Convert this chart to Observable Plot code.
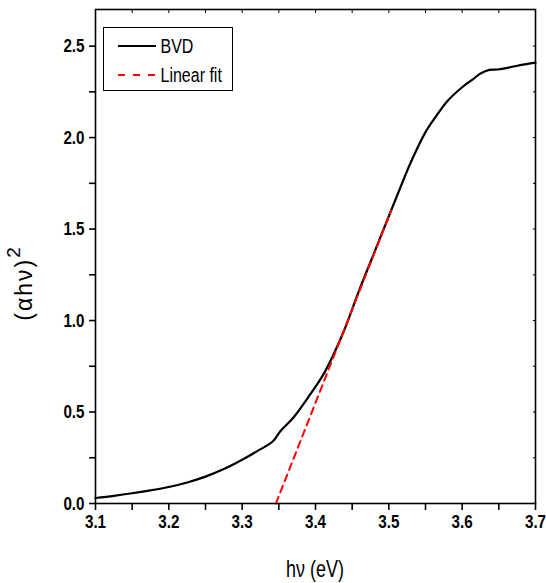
<!DOCTYPE html>
<html><head><meta charset="utf-8">
<script src="https://cdn.jsdelivr.net/npm/d3@7"></script>
<script src="https://cdn.jsdelivr.net/npm/@observablehq/plot@0.6"></script>
<style>
body{margin:0;background:#fff}
#chart{position:relative;width:546px;height:583px}
</style>
</head><body><div id="chart"></div>
<script>
// Photon energy hν (eV) and (αhν)^2 for BVD
const hv  = [3.100,3.125,3.150,3.175,3.200,3.225,3.250,3.275,3.300,3.320,3.342,3.352,3.370,3.390,3.410,3.425,3.440,3.460,3.480,3.500,3.515,3.530,3.550,3.565,3.580,3.600,3.615,3.625,3.637,3.648,3.660,3.672,3.685,3.700];
const bvd = [0.030,0.042,0.056,0.072,0.090,0.115,0.147,0.188,0.239,0.285,0.340,0.395,0.470,0.580,0.700,0.818,0.955,1.170,1.370,1.570,1.720,1.865,2.030,2.120,2.200,2.275,2.320,2.350,2.370,2.372,2.380,2.390,2.400,2.410];
// Linear fit end points
const fitX = [3.346, 3.503];
const fitY = [0.000, 1.600];
const seriesNames = ["BVD", "Linear fit"];
const xTicks = [3.1,3.2,3.3,3.4,3.5,3.6,3.7];
const xMinor = [3.15,3.25,3.35,3.45,3.55,3.65];
const yTicks = [0,0.5,1.0,1.5,2.0,2.5];
const yMinor = [0.25,0.75,1.25,1.75,2.25];
const xTitle = "hν (eV)";
const yTitle = "(αhν)";
const ySup = "2";

const curve = hv.map((x,i)=>({x, y:bvd[i]}));
const fit = fitX.map((x,i)=>({x, y:fitY[i]}));
const FONT = '"Liberation Sans",Arial,sans-serif';
const NARROW = 0.8;

const chart = Plot.plot({
  width: 546, height: 583,
  marginLeft: 95, marginRight: 11, marginTop: 9, marginBottom: 80,
  style: {fontFamily: FONT, background: "#fff"},
  x: {domain: [3.1, 3.7]},
  y: {domain: [0, 2.7]},
  marks: [
    Plot.line(curve, {x:"x", y:"y", stroke:"#000", strokeWidth:2.2, curve:"catmull-rom"}),
    Plot.line(fit, {x:"x", y:"y", stroke:"#ff0000", strokeWidth:2, strokeDasharray:"7,5"}),
    Plot.frame({stroke:"#000", strokeWidth:1.6}),
    Plot.axisX(xTicks, {anchor:"bottom", tickSize:7, tickPadding:4, strokeWidth:1.6, tickFormat:d=>d.toFixed(1), fontSize:19, fontWeight:"bold", fill:"#000", label:null}),
    Plot.axisX(xMinor, {anchor:"bottom", tickSize:7, strokeWidth:1.6, text:null, label:null}),
    Plot.axisX(xTicks.concat(xMinor), {anchor:"top", tickSize:-3, strokeWidth:1, text:null, label:null}),
    Plot.axisY(yTicks, {anchor:"left", tickSize:6, tickPadding:5, strokeWidth:1.6, tickFormat:d=>d.toFixed(1), fontSize:19, fontWeight:"bold", fill:"#000", label:null}),
    Plot.axisY(yMinor, {anchor:"left", tickSize:6, strokeWidth:1.6, text:null, label:null}),
    Plot.axisY(yTicks.concat(yMinor), {anchor:"right", tickSize:-3, strokeWidth:1, text:null, label:null})
  ]
});
document.getElementById("chart").appendChild(chart);

const svg = d3.select(chart);
// narrow the tick labels (Arial Narrow look)
svg.selectAll('g[aria-label$="tick label"] text').each(function(){
  const t = this.getAttribute("transform") || "";
  this.setAttribute("transform", t + ` scale(${NARROW},1)`);
});
// axis titles
svg.append("text").attr("transform","translate(315,577) scale(0.78,1)").attr("text-anchor","middle")
  .attr("font-family", FONT).attr("font-size", 23).attr("fill","#000").text(xTitle);
const yt = svg.append("text").attr("transform","translate(32,284) rotate(-90)").attr("text-anchor","middle")
  .attr("font-family", FONT).attr("font-size", 23).attr("letter-spacing", 2).attr("fill","#000");
yt.append("tspan").text(yTitle);
yt.append("tspan").attr("dy",-12).attr("font-size",19).attr("letter-spacing",0).text(ySup);

// legend
const lg = svg.append("g");
lg.append("rect").attr("x",103.5).attr("y",27.5).attr("width",129).attr("height",63)
  .attr("fill","#fff").attr("stroke","#000").attr("stroke-width",1);
const items = [
  {name: seriesNames[0], stroke:"#000", dash:null, y:46},
  {name: seriesNames[1], stroke:"#ff0000", dash:"7,8", y:75}
];
items.forEach(it=>{
  lg.append("line").attr("x1",118).attr("x2",156).attr("y1",it.y).attr("y2",it.y)
    .attr("stroke",it.stroke).attr("stroke-width",2).attr("stroke-dasharray",it.dash);
  lg.append("text").attr("transform",`translate(160.5,${it.y+7}) scale(${NARROW},1)`)
    .attr("text-anchor","start").attr("font-family",FONT)
    .attr("font-size",20).attr("fill","#000").text(it.name);
});
</script>
</body></html>
